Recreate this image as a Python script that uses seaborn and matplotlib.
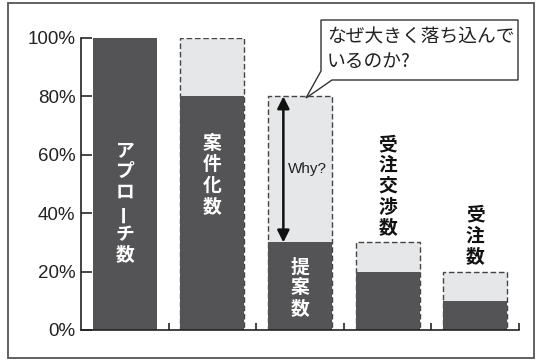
import numpy as np
import pandas as pd
import matplotlib
matplotlib.use("Agg")
import matplotlib.pyplot as plt
from matplotlib.patches import Polygon, Rectangle
import seaborn as sns

# data
stages = ["アプローチ数", "案件化数", "提案数", "受注交渉数", "受注数"]
actual = [100, 80, 30, 20, 10]
previous = [np.nan, 100, 80, 30, 20]
yticks = [0, 20, 40, 60, 80, 100]

sns.set_theme(style="white")
plt.rcParams['font.family'] = ['Liberation Sans', 'Noto Sans CJK JP', 'DejaVu Sans']

df = pd.DataFrame({"stage": stages, "actual": actual, "previous": previous})

dark = "#545456"
light = "#e6e7e8"

fig = plt.figure(figsize=(5.37, 3.6), dpi=100)
ax = fig.add_axes([81/537, 1-330/360, (519-81)/537, (330-38)/360])

# previous stage (dashed light boxes)
sns.barplot(data=df, x="stage", y="previous", order=stages, color=light,
            width=0.73, saturation=1, edgecolor="#444444", linewidth=1.0,
            linestyle=(0, (4, 2)), ax=ax)
# actual counts
sns.barplot(data=df, x="stage", y="actual", order=stages, color=dark,
            width=0.73, saturation=1, linewidth=0, ax=ax)

ax.set_xlim(-0.5, 4.5)
ax.set_ylim(0, 100)
ax.set_xlabel("")
ax.set_ylabel("")
ax.set_yticks(yticks)
ax.set_yticklabels([f"{v}%" for v in yticks], fontsize=13.5, color="#222222")
ax.set_xticks(np.arange(len(stages)) + 0.5)
ax.set_xticklabels([])
ax.tick_params(axis="y", direction="in", length=8, width=1.2, pad=4, left=True)
ax.tick_params(axis="x", direction="in", length=5, width=1.2, bottom=True)
for s in ["top", "right"]:
    ax.spines[s].set_visible(False)
for s in ["left", "bottom"]:
    ax.spines[s].set_color("#222222")
    ax.spines[s].set_linewidth(1.2)


def vertical_label(x, y, text, color, va="center", size=13.5, pitch=15):
    n = len(text)
    if va == "center":
        start = (n - 1) / 2 * pitch
    else:  # bottom anchored: text sits above y
        start = (n - 1) * pitch + pitch / 2 + 3
    for i, ch in enumerate(text):
        # the long vowel mark is turned upright for vertical writing
        rot = 90 if ch == "ー" else 0
        ax.annotate(ch, (x, y), xytext=(0, start - i * pitch),
                    textcoords="offset points", ha="center", va="center",
                    rotation=rot, fontsize=size, fontweight="bold", color=color,
                    family=["Noto Sans CJK JP"], annotation_clip=False)


vertical_label(0, 43.5, stages[0], "white")
vertical_label(1, 53, stages[1], "white")
vertical_label(2, 14.5, stages[2], "white")
vertical_label(3, previous[3], stages[3], "#111111", va="bottom")
vertical_label(4, previous[4], stages[4], "#111111", va="bottom")

# Why? arrow on the gap of the third bar
ax.annotate("", xy=(2 - 0.19, actual[2]), xytext=(2 - 0.19, previous[2]),
            arrowprops=dict(arrowstyle="<|-|>", color="#111111", lw=1.8,
                            shrinkA=0, shrinkB=0, mutation_scale=18))
ax.text(2 - 0.14, 55, "Why?", fontsize=11, ha="left", va="center", color="#222222")

# callout bubble
def px(x, y):
    return (x / 537, 1 - y / 360)

bubble = [px(321, 20), px(518, 20), px(518, 80), px(332, 80), px(306, 98),
          px(321, 71)]
fig.add_artist(Polygon(bubble, closed=True, transform=fig.transFigure,
                       facecolor="white", edgecolor="#333333", lw=1.0))
fig.text(327/537, 1 - 37/360, "なぜ大きく落ち込んで", fontsize=13.5,
         ha="left", va="center", color="#222222", family=["Noto Sans CJK JP"])
fig.text(327/537, 1 - 62/360, "いるのか?", fontsize=13.5,
         ha="left", va="center", color="#222222", family=["Noto Sans CJK JP"])

# outer frame
x0, y0 = px(8, 358)
x1, y1 = px(534, 3)
fig.add_artist(Rectangle((x0, y0), x1 - x0, y1 - y0, transform=fig.transFigure,
                         fill=False, edgecolor="#555555", lw=1.3))

fig.savefig("out.png", dpi=100)
